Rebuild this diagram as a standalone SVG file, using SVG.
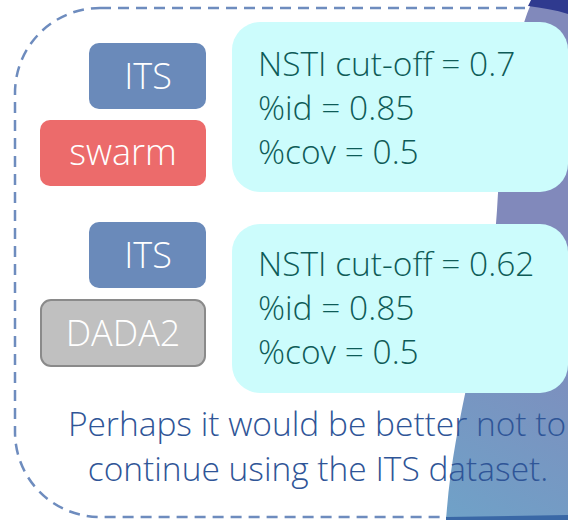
<svg xmlns="http://www.w3.org/2000/svg" width="568" height="520" viewBox="0 0 568 520">
  <style>
    text { font-family: "Open Sans", "Liberation Sans", sans-serif; font-size: 33.5px; font-weight: 300; }
    .lbl { fill: #ffffff; text-anchor: middle; font-size: 36px; }
    .param { fill: #0e5b57; }
    .note { fill: #2f5597; text-anchor: middle; }
    .its { fill: #6a8aba; }
    .swarm { fill: #ec6b6b; }
    .dada { fill: #c0c0c0; stroke: #8a8a8a; stroke-width: 2; }
    .panel { fill: #ccfcfc; }
  </style>
  <defs>
    <linearGradient id="bgGrad" gradientUnits="userSpaceOnUse" x1="440" y1="520" x2="568" y2="300">
      <stop offset="0" stop-color="#6fa2c8"/>
      <stop offset="1" stop-color="#8189bb"/>
    </linearGradient>
  </defs>

  <rect width="568" height="520" fill="#ffffff"/>

  <!-- dashed frame -->
  <rect x="15" y="8" width="640" height="509" rx="85" ry="85" fill="none" stroke="#6e8cbe" stroke-width="2.5" stroke-dasharray="11 7"/>

  <!-- decorative backdrop on the right -->
  <g id="backdrop">
    <path d="M533 0 C515 35 502 120 497 210 C490 320 455 400 446 520 L568 520 L568 0 Z" fill="url(#bgGrad)"/>
    <path d="M531 0 L568 0 L568 14 C556 10 542 8 528 6 Z" fill="#2f3a8f"/>
    <path d="M446 517 L568 515 L568 520 L446 520 Z" fill="#3a68a6"/>
  </g>

  <!-- first pipeline: ITS + swarm -->
  <g id="its1">
    <rect class="its" x="89" y="43" width="117" height="66" rx="10"/>
    <text class="lbl" x="148" y="89">ITS</text>
  </g>
  <g id="swarm">
    <rect class="swarm" x="40" y="120" width="166" height="66" rx="10"/>
    <text class="lbl" x="123" y="165">swarm</text>
  </g>
  <g id="params1">
    <rect class="panel" x="232" y="22" width="336" height="170" rx="28"/>
    <text class="param" x="258" y="76">NSTI cut-off = 0.7</text>
    <text class="param" x="258" y="120">%id = 0.85</text>
    <text class="param" x="258" y="164">%cov = 0.5</text>
  </g>

  <!-- second pipeline: ITS + DADA2 -->
  <g id="its2">
    <rect class="its" x="89" y="222" width="117" height="66" rx="10"/>
    <text class="lbl" x="148" y="268">ITS</text>
  </g>
  <g id="dada2">
    <rect class="dada" x="41" y="300" width="164" height="66" rx="10"/>
    <text class="lbl" x="123" y="346">DADA2</text>
  </g>
  <g id="params2">
    <rect class="panel" x="232" y="224" width="336" height="169" rx="28"/>
    <text class="param" x="258" y="276">NSTI cut-off = 0.62</text>
    <text class="param" x="258" y="320">%id = 0.85</text>
    <text class="param" x="258" y="364">%cov = 0.5</text>
  </g>

  <!-- conclusion -->
  <g id="note">
    <text class="note" x="317" y="436">Perhaps it would be better not to</text>
    <text class="note" x="318" y="481">continue using the ITS dataset.</text>
  </g>

  <g id="connectors"/>
</svg>
